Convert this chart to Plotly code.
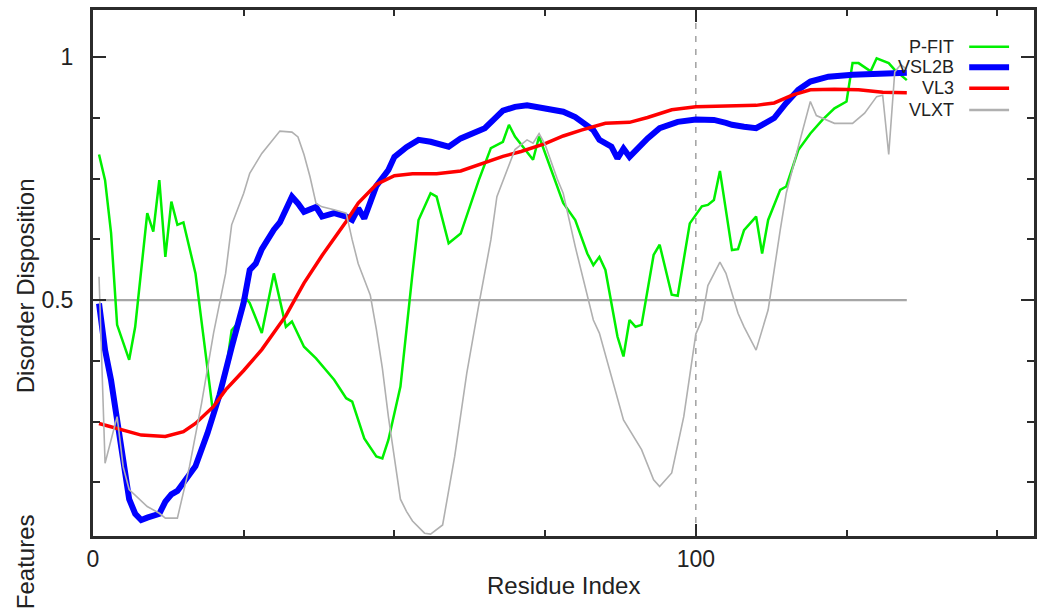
import plotly.graph_objects as go

# ---------------- data ----------------
PFIT_RES = [1, 2, 3, 4, 6, 7, 9, 10, 11, 12, 13, 14, 15, 17, 20, 22, 23, 24, 25, 26,
            28, 30, 32, 33, 35, 37, 40, 42, 43, 45, 47, 48, 49, 51, 53, 54, 56, 57, 59, 61,
            64, 66, 68, 69, 70, 73, 74, 76, 78, 80, 82, 83, 84, 85, 87, 88, 89, 90, 91, 93,
            94, 96, 97, 99, 101, 102, 103, 104, 105, 106, 107, 108, 110, 111, 112, 114, 115, 117, 119, 121,
            123, 125, 126, 127, 129, 130, 132, 133, 135]
PFIT = [0.800, 0.747, 0.638, 0.449, 0.377, 0.445, 0.679, 0.641, 0.747, 0.589, 0.703, 0.655, 0.660, 0.555, 0.260, 0.349, 0.438, 0.452, 0.510, 0.494,
        0.432, 0.555, 0.445, 0.456, 0.404, 0.380, 0.336, 0.298, 0.291, 0.215, 0.178, 0.174, 0.212, 0.322, 0.555, 0.665, 0.720, 0.713, 0.617, 0.637,
        0.747, 0.813, 0.826, 0.861, 0.837, 0.789, 0.837, 0.768, 0.700, 0.665, 0.596, 0.572, 0.589, 0.562, 0.425, 0.384, 0.459, 0.445, 0.449, 0.593,
        0.614, 0.511, 0.509, 0.658, 0.693, 0.696, 0.706, 0.766, 0.680, 0.603, 0.605, 0.644, 0.672, 0.596, 0.665, 0.727, 0.734, 0.809, 0.843, 0.871,
        0.895, 0.909, 0.988, 0.988, 0.971, 0.998, 0.988, 0.974, 0.953]

VSL2B_RES = [1, 2, 3, 4, 5, 6, 7, 8, 9, 10, 11, 12, 13, 14, 15, 17, 19, 21, 23, 25,
             26, 27, 28, 29, 30, 31, 33, 34, 35, 37, 38, 40, 42, 43, 44, 45, 46, 47, 49, 50,
             52, 54, 56, 59, 61, 65, 68, 70, 72, 75, 78, 80, 81, 83, 84, 86, 87, 88, 89, 90,
             92, 94, 97, 100, 103, 105, 106, 108, 110, 111, 113, 115, 117, 119, 122, 126, 129, 132, 135]
VSL2B = [0.493, 0.397, 0.335, 0.255, 0.160, 0.090, 0.060, 0.047, 0.052, 0.056, 0.060, 0.085, 0.100, 0.107, 0.125, 0.158, 0.226, 0.305, 0.403, 0.495,
         0.562, 0.575, 0.605, 0.628, 0.645, 0.660, 0.713, 0.699, 0.682, 0.692, 0.672, 0.679, 0.672, 0.665, 0.689, 0.668, 0.705, 0.735, 0.768, 0.795,
         0.815, 0.830, 0.826, 0.816, 0.833, 0.854, 0.890, 0.898, 0.901, 0.895, 0.888, 0.877, 0.867, 0.850, 0.830, 0.816, 0.792, 0.812, 0.795, 0.809,
         0.833, 0.854, 0.867, 0.872, 0.871, 0.865, 0.861, 0.857, 0.854, 0.861, 0.875, 0.906, 0.933, 0.950, 0.960, 0.964, 0.966, 0.967, 0.968]

VL3_RES = [1, 5, 8, 12, 15, 17, 20, 22, 25, 28, 32, 35, 38, 42, 44, 47, 50, 53, 57, 61,
           65, 68, 71, 75, 78, 81, 85, 89, 92, 96, 100, 105, 110, 113, 116, 119, 123, 127, 131, 135]
VL3 = [0.246, 0.232, 0.222, 0.219, 0.229, 0.246, 0.281, 0.315, 0.355, 0.398, 0.468, 0.535, 0.592, 0.662, 0.700, 0.738, 0.756, 0.760, 0.760, 0.766,
       0.783, 0.796, 0.806, 0.822, 0.838, 0.850, 0.864, 0.866, 0.876, 0.892, 0.898, 0.899, 0.901, 0.906, 0.922, 0.933, 0.934, 0.933, 0.928, 0.927]

VLXT_RES = [1, 2, 4, 5, 6, 9, 11, 12, 14, 16, 18, 20, 22, 23, 25, 26, 28, 30, 31, 33,
            34, 35, 36, 37, 38, 40, 42, 43, 44, 46, 47, 48, 49, 51, 52, 53, 55, 56, 58, 60,
            62, 64, 66, 67, 69, 70, 72, 73, 74, 75, 77, 78, 80, 83, 84, 88, 91, 93, 94, 96,
            98, 100, 101, 102, 104, 105, 107, 108, 110, 112, 114, 115, 117, 119, 120, 123, 126, 128, 130, 131,
            132, 133, 134, 135]
VLXT = [0.548, 0.164, 0.260, 0.157, 0.110, 0.075, 0.061, 0.051, 0.051, 0.157, 0.287, 0.432, 0.555, 0.655, 0.720, 0.761, 0.802, 0.833, 0.848, 0.846,
        0.836, 0.800, 0.754, 0.699, 0.692, 0.686, 0.679, 0.624, 0.575, 0.510, 0.440, 0.360, 0.260, 0.090, 0.065, 0.045, 0.020, 0.018, 0.037, 0.178,
        0.349, 0.490, 0.624, 0.713, 0.775, 0.810, 0.830, 0.823, 0.843, 0.820, 0.750, 0.720, 0.610, 0.459, 0.432, 0.253, 0.192, 0.130, 0.116, 0.144,
        0.260, 0.430, 0.459, 0.530, 0.578, 0.555, 0.473, 0.445, 0.397, 0.480, 0.644, 0.720, 0.816, 0.909, 0.880, 0.864, 0.864, 0.885, 0.919, 0.922,
        0.800, 0.970, 0.985, 0.975]

SERIES_NAMES = ["P-FIT", "VSL2B", "VL3", "VLXT"]
SERIES_X = [PFIT_RES, VSL2B_RES, VL3_RES, VLXT_RES]
SERIES_Y = [PFIT, VSL2B, VL3, VLXT]
SERIES_COLORS = ["#00f000", "#0000ff", "#ff0000", "#b0b0b0"]
SERIES_WIDTHS = [2.5, 6, 3.5, 1.6]
LEGEND_WIDTHS = [2.5, 6, 3.5, 2.5]

X_MAJOR = [0, 100]
X_MINOR = [25, 50, 75, 125, 150]
Y_MAJOR = [0.5, 1]
Y_MAJOR_TEXT = ["0.5", "1"]
Y_MINOR = [0.125, 0.25, 0.375, 0.625, 0.75, 0.875]

THRESHOLD = 0.5
SEQ_LEN = 135
MARK_RES = 100

FONT = "Liberation Sans, Arial, sans-serif"
TXT = "#222222"
FRAME = "#2b2b2b"

# plot-area pixel geometry
W, H = 1039, 610
L, R, T, B = 93, 1037, 10, 536
PW, PH = R - L, B - T


def px_x(px):
    return (px - L) / PW


def px_y(py):
    return (B - py) / PH


fig = go.Figure()

for name, xs, ys, col, w in zip(SERIES_NAMES, SERIES_X, SERIES_Y, SERIES_COLORS, SERIES_WIDTHS):
    fig.add_trace(go.Scatter(x=xs, y=ys, mode="lines", name=name,
                             line=dict(color=col, width=w), showlegend=False,
                             hoverinfo="x+y+name"))

# threshold line and dashed marker line
fig.add_shape(type="line", xref="x", yref="y", x0=0, x1=SEQ_LEN, y0=THRESHOLD, y1=THRESHOLD,
              line=dict(color="#a6a6a6", width=2.2), layer="below")
fig.add_shape(type="line", xref="x", yref="paper", x0=MARK_RES, x1=MARK_RES, y0=0, y1=1,
              line=dict(color="#a0a0a0", width=1.5, dash="6px,7px"), layer="below")

# gnuplot-style legend: right-aligned labels, sample line to the right
legend_rows_py = [46.7, 67.3, 88.3, 110]
for name, col, lw, py in zip(SERIES_NAMES, SERIES_COLORS, LEGEND_WIDTHS, legend_rows_py):
    fig.add_annotation(text=name, xref="paper", yref="paper", x=px_x(959), y=px_y(py),
                       xanchor="right", yanchor="middle", showarrow=False,
                       font=dict(family=FONT, size=18, color=TXT))
    fig.add_shape(type="line", xref="paper", yref="paper", x0=px_x(972), x1=px_x(1012),
                  y0=px_y(py), y1=px_y(py), line=dict(color=col, width=lw))

# axis titles
fig.add_annotation(text="Residue Index", xref="paper", yref="paper", x=px_x(565), y=px_y(585),
                   xanchor="center", yanchor="middle", showarrow=False,
                   font=dict(family=FONT, size=24, color=TXT))
fig.add_annotation(text="Disorder Disposition", xref="paper", yref="paper", x=px_x(25), y=px_y(286),
                   xanchor="center", yanchor="middle", showarrow=False, textangle=-90,
                   font=dict(family=FONT, size=24, color=TXT))
fig.add_annotation(text="Features", xref="paper", yref="paper", x=px_x(25), y=px_y(562),
                   xanchor="center", yanchor="middle", showarrow=False, textangle=-90,
                   font=dict(family=FONT, size=24, color=TXT))

axis_common = dict(showline=True, linecolor=FRAME, linewidth=3, mirror="ticks",
                   ticks="inside", tickcolor=FRAME, tickwidth=2, showgrid=False, zeroline=False,
                   tickfont=dict(family=FONT, size=23, color=TXT))

fig.update_xaxes(range=[0, 156.1], tickvals=X_MAJOR, ticktext=[str(v) for v in X_MAJOR],
                 ticklen=12, ticklabelstandoff=0,
                 minor=dict(tickvals=X_MINOR, ticks="inside", ticklen=6, tickcolor=FRAME, tickwidth=2),
                 **axis_common)
fig.update_yaxes(range=[0.0142, 1.0974], tickvals=Y_MAJOR, ticktext=Y_MAJOR_TEXT,
                 ticklen=13, ticklabelstandoff=12,
                 minor=dict(tickvals=Y_MINOR, ticks="inside", ticklen=7, tickcolor=FRAME, tickwidth=2),
                 **axis_common)

fig.update_layout(width=W, height=H, margin=dict(l=L, r=W - R, t=T, b=H - B),
                  paper_bgcolor="white", plot_bgcolor="white", showlegend=False,
                  font=dict(family=FONT, color=TXT))

fig.write_html("out.html")
